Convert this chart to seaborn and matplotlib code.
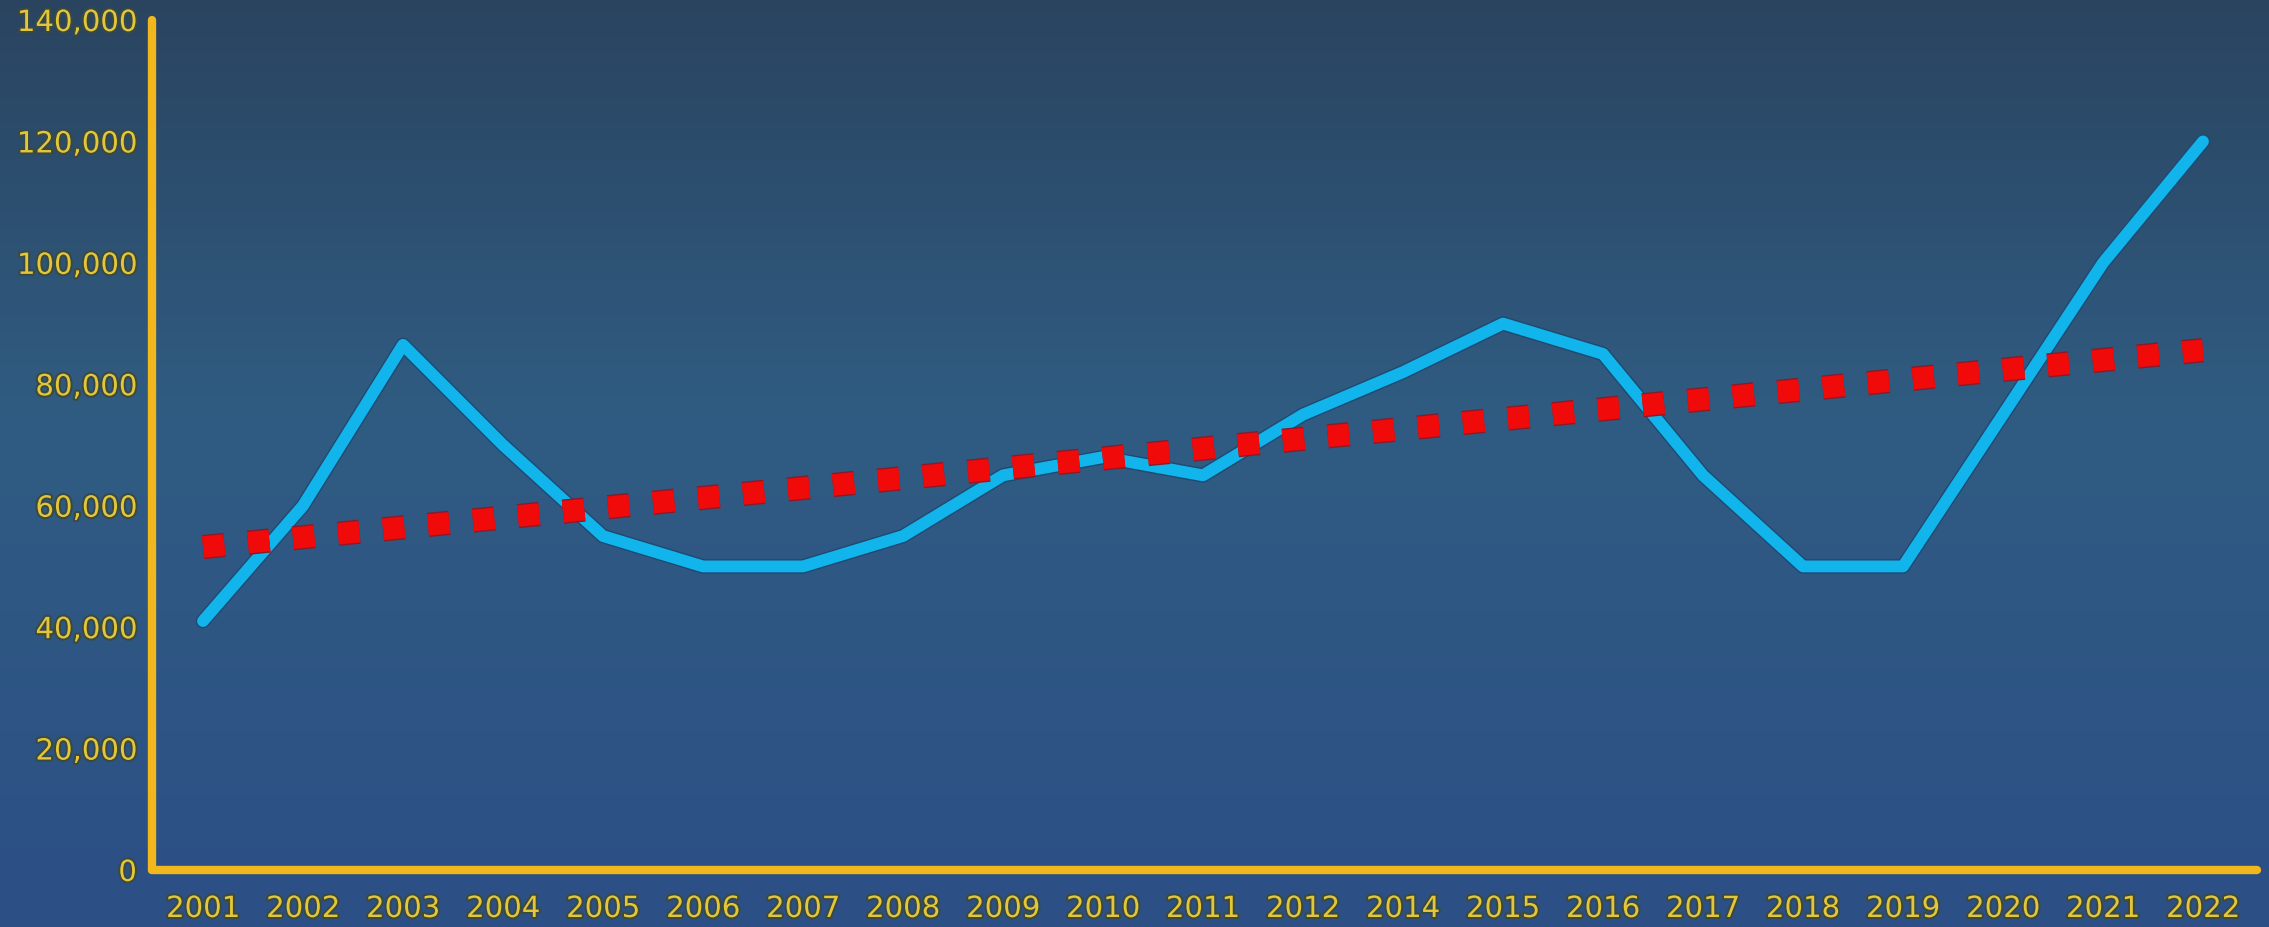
import numpy as np
import pandas as pd
import matplotlib
matplotlib.use("Agg")
import matplotlib.pyplot as plt
import matplotlib.patheffects as pe
from matplotlib.colors import LinearSegmentedColormap
from matplotlib.ticker import FuncFormatter, MultipleLocator
import seaborn as sns

# Yearly values (2013 is absent from the series)
years = ["2001", "2002", "2003", "2004", "2005", "2006", "2007", "2008", "2009",
         "2010", "2011", "2012", "2014", "2015", "2016", "2017", "2018", "2019",
         "2020", "2021", "2022"]
values = [41000, 60000, 86500, 70000, 55000, 50000, 50000, 55000, 65000,
          68000, 65000, 75000, 82000, 90000, 85000, 65000, 50000, 50000,
          75000, 100000, 120000]

df = pd.DataFrame({"pos": np.arange(len(years)), "year": years, "value": values})

sns.set_theme(style="white")
plt.rcParams["font.family"] = ["DejaVu Sans"]

W, H, DPI = 2269, 927, 100
fig = plt.figure(figsize=(W / DPI, H / DPI), dpi=DPI)

# Vertical gradient backdrop across the whole figure
bg = fig.add_axes([0, 0, 1, 1], zorder=0)
bg.set_axis_off()
grad_cmap = LinearSegmentedColormap.from_list(
    "backdrop", [(0.0, "#2a4460"), (0.45, "#305c82"), (1.0, "#2c4f86")])
bg.imshow(np.linspace(0, 1, 256).reshape(-1, 1), aspect="auto", cmap=grad_cmap,
          extent=[0, 1, 0, 1], origin="upper")
bg.set_xlim(0, 1)
bg.set_ylim(0, 1)

ax = fig.add_axes([152 / W, 1 - 870 / H, (2257 - 152) / W, (870 - 20) / H], zorder=1)
ax.set_facecolor("none")

# Main series
sns.lineplot(data=df, x="pos", y="value", ax=ax, color="#12b4ec", linewidth=8.5,
             zorder=2, sort=False,
             path_effects=[pe.Stroke(linewidth=10.5, foreground="#1d4a72"), pe.Normal()])

# Linear trend, drawn as square red dots
sns.regplot(data=df, x="pos", y="value", scatter=False, ci=None, ax=ax,
            line_kws=dict(color="#f00a0a", linewidth=15.5, linestyle=(0, (1, 1.1)),
                          dash_capstyle="butt", zorder=3,
                          path_effects=[pe.Stroke(linewidth=17.5, foreground="#8a1a2a"),
                                        pe.Normal()]))

ax.set_xlim(-0.51, 20.54)
ax.set_ylim(0, 140000)
ax.yaxis.set_major_locator(MultipleLocator(20000))
ax.yaxis.set_major_formatter(FuncFormatter(lambda v, p: f"{int(v):,}"))
ax.set_xticks(df["pos"])
ax.set_xticklabels(df["year"])
ax.set_xlabel("")
ax.set_ylabel("")
ax.grid(False)

axis_color = "#f2b71c"
label_color = "#e3c63a"
for side in ["top", "right"]:
    ax.spines[side].set_visible(False)
for side in ["left", "bottom"]:
    ax.spines[side].set_visible(True)
    ax.spines[side].set_color(axis_color)
    ax.spines[side].set_linewidth(6)
    ax.spines[side].set_capstyle("round")

glow = [pe.withStroke(linewidth=3, foreground="#3a4a40")]
ax.tick_params(axis="both", length=0, labelsize=21, labelcolor=label_color)
ax.tick_params(axis="y", pad=11)
ax.tick_params(axis="x", pad=18)
for lbl in ax.get_xticklabels() + ax.get_yticklabels():
    lbl.set_path_effects(glow)

fig.savefig("out.png", dpi=DPI)
